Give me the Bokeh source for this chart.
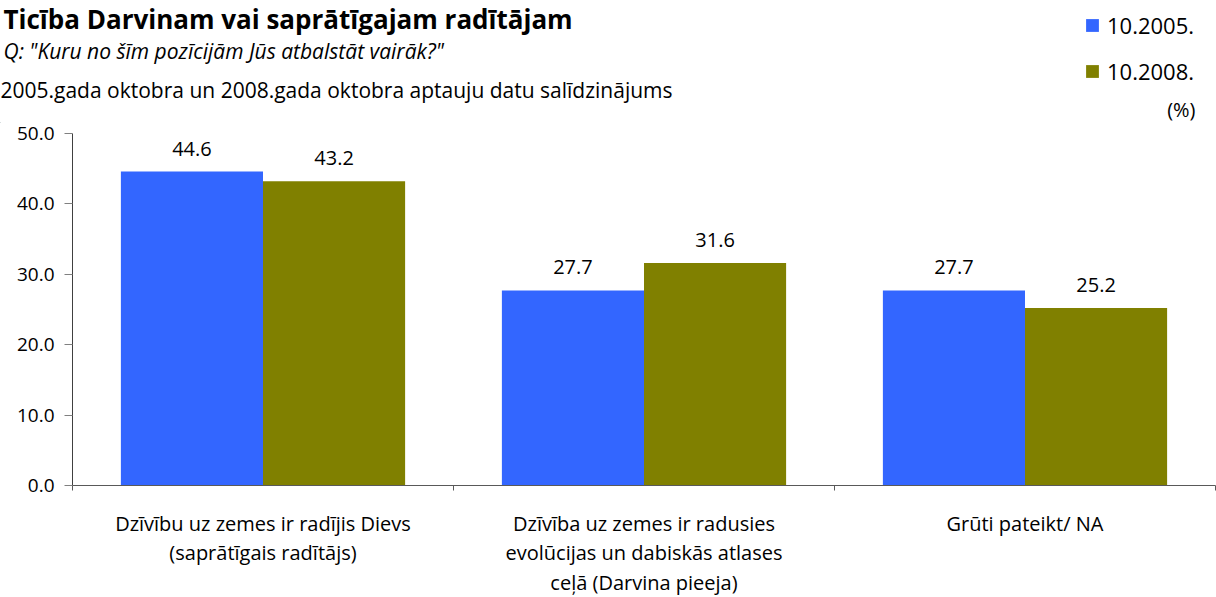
from bokeh.plotting import figure
from bokeh.layouts import column
from bokeh.models import (ColumnDataSource, FixedTicker, LinearAxis, Range1d,
                          LabelSet, Label, Legend, LegendItem, PrintfTickFormatter,
                          CustomJSTickFormatter)
from bokeh.core.properties import value
from bokeh.transform import dodge
from bokeh.embed import file_html
from bokeh.resources import INLINE

title = "Ticība Darvinam vai saprātīgajam radītājam"
subtitle = "Q: \"Kuru no šīm pozīcijām Jūs atbalstāt vairāk?\""
note = "2005.gada oktobra un 2008.gada oktobra aptauju datu salīdzinājums"
unit = "(%)"
categories = [
    "Dzīvību uz zemes ir radījis Dievs\n(saprātīgais radītājs)",
    "Dzīvība uz zemes ir radusies\nevolūcijas un dabiskās atlases\nceļā (Darvina pieeja)",
    "Grūti pateikt/ NA",
]
series = ["10.2005.", "10.2008."]
values_2005 = [44.6, 27.7, 27.7]
values_2008 = [43.2, 31.6, 25.2]
y_ticks = [0, 10, 20, 30, 40, 50]
colors = ["#3366FF", "#808000"]

FONT = "Open Sans"
TXT = "#000000"

n = len(categories)
centers = [i + 0.5 for i in range(n)]
edges = list(range(n + 1))

src = ColumnDataSource(dict(
    x=centers,
    v2005=values_2005,
    v2008=values_2008,
    t2005=["%.1f" % v for v in values_2005],
    t2008=["%.1f" % v for v in values_2008],
))

# ---------- header (titles + legend) ----------
HW, HH = 1216, 123
head = figure(frame_width=HW, frame_height=HH, x_range=Range1d(0, HW), y_range=Range1d(0, HH),
              x_axis_location=None, y_axis_location=None, output_backend="svg",
              toolbar_location=None, min_border=0)
head.frame_align = False
head.outline_line_color = None
head.xgrid.grid_line_color = None
head.ygrid.grid_line_color = None

# legend keys (renderers kept outside the visible header range)
h1 = head.vbar(x=[-500], top=[1], width=1, fill_color=colors[0], line_color=None)
h2 = head.vbar(x=[-500], top=[1], width=1, fill_color=colors[1], line_color=None)
legend = Legend(items=[LegendItem(label=series[0], renderers=[h1]),
                       LegendItem(label=series[1], renderers=[h2])],
                location=(1084, 37), orientation="vertical",
                glyph_width=16, glyph_height=16, label_height=16, spacing=16,
                padding=0, margin=0, label_standoff=7,
                border_line_color=None, background_fill_alpha=0,
                label_text_font=FONT, label_text_font_size="22px", label_text_color=TXT)
head.add_layout(legend, "center")

texts = [
    (title, 3, 105, "bold", "26px", "left"),
    (subtitle, 3, 72.5, "italic", "21px", "left"),
    (note, 0, 33.5, "normal", "21px", "left"),
    (unit, 1195, 14, "normal", "20px", "right"),
]
for t, x, y, st, fs, al in texts:
    head.add_layout(Label(x=x, y=y, x_units="screen", y_units="screen", text=t,
                          text_font=FONT, text_font_style=st, text_font_size=fs,
                          text_color=TXT, text_align=al, text_baseline="middle"))

# ---------- main chart ----------
p = figure(frame_width=1143, frame_height=352, x_range=Range1d(0, n), y_range=Range1d(0, 50),
           x_axis_location=None, output_backend="svg", toolbar_location=None,
           min_border_left=72, min_border_right=1, min_border_top=10, min_border_bottom=112)
p.frame_align = False
p.outline_line_color = None
p.xgrid.grid_line_color = None
p.ygrid.grid_line_color = None

edge_axis = LinearAxis(ticker=FixedTicker(ticks=edges))
edge_axis.major_label_text_font_size = "0px"
edge_axis.major_label_standoff = 0
edge_axis.major_tick_out = 5
edge_axis.major_tick_in = 0
edge_axis.minor_tick_line_color = None
edge_axis.axis_line_color = "#595959"
edge_axis.major_tick_line_color = "#595959"
p.add_layout(edge_axis, "below")

cat_axis = LinearAxis(ticker=FixedTicker(ticks=centers),
                      formatter=CustomJSTickFormatter(args=dict(labels=categories),
                                                      code="return labels[Math.floor(tick)];"))
cat_axis.axis_line_color = None
cat_axis.major_tick_line_color = None
cat_axis.minor_tick_line_color = None
cat_axis.major_label_text_font = FONT
cat_axis.major_label_text_font_size = "20px"
cat_axis.major_label_text_color = TXT
cat_axis.major_label_text_line_height = 1.1
cat_axis.major_label_standoff = 13
p.add_layout(cat_axis, "below")

ya = p.yaxis[0]
ya.ticker = FixedTicker(ticks=y_ticks)
ya.formatter = PrintfTickFormatter(format="%.1f")
ya.major_tick_out = 8
ya.major_tick_in = 0
ya.minor_tick_line_color = None
ya.axis_line_color = "#404040"
ya.major_tick_line_color = "#808080"
ya.major_label_text_font = FONT
ya.major_label_text_font_size = "19px"
ya.major_label_text_color = TXT
ya.major_label_standoff = 10

bw = 0.373
off = bw / 2
p.vbar(x=dodge("x", -off), top="v2005", width=bw, source=src,
       fill_color=colors[0], line_color=None)
p.vbar(x=dodge("x", off), top="v2008", width=bw, source=src,
       fill_color=colors[1], line_color=None)

for xo, col, tcol in [(-off, "v2005", "t2005"), (off, "v2008", "t2008")]:
    ls = LabelSet(x=dodge("x", xo), y=col, text=tcol, source=src,
                  text_align="center", text_baseline="alphabetic", y_offset=16,
                  text_font=value(FONT), text_font_size=value("20px"), text_color=TXT)
    p.add_layout(ls)

layout = column(head, p, spacing=0)
open("out.html", "w").write(file_html(layout, INLINE))
